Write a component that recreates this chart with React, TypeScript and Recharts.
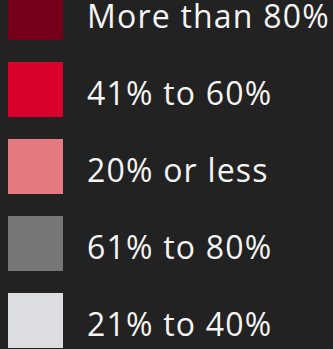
import React from 'react';
import { PieChart, Pie, Cell, Legend } from 'recharts';

const CATEGORIES = ['More than 80%', '41% to 60%', '20% or less', '61% to 80%', '21% to 40%'];
const COLORS = ['#760019', '#d9002b', '#e47a80', '#767676', '#dcdde0'];
const VALUES = [1, 1, 1, 1, 1];

const data = CATEGORIES.map((name, i) => ({ name, value: VALUES[i] }));

const LegendList = () => (
  <ul style={{ listStyle: 'none', margin: 0, padding: 0 }}>
    {CATEGORIES.map((name, i) => (
      <li
        key={name}
        style={{ display: 'flex', alignItems: 'center', height: 55, marginBottom: 22 }}
      >
        <span
          style={{ display: 'inline-block', width: 55, height: 55, background: COLORS[i], flexShrink: 0 }}
        />
        <span
          style={{
            marginLeft: 24,
            color: '#f4f4f4',
            fontFamily: '"Open Sans", sans-serif',
            fontSize: 32,
            letterSpacing: 1.2,
            lineHeight: '30px',
            position: 'relative',
            top: 3,
            whiteSpace: 'nowrap',
          }}
        >
          {name}
        </span>
      </li>
    ))}
  </ul>
);

export default function App() {
  return (
    <div
      style={{
        position: 'fixed',
        inset: 0,
        background: '#222222',
        overflow: 'hidden',
      }}
    >
      <div style={{ position: 'absolute', left: 8, top: -15 }}>
        <PieChart width={325} height={380} margin={{ top: 0, right: 0, bottom: 0, left: 0 }}>
          <Pie
            data={data}
            dataKey="value"
            nameKey="name"
            cx={-100}
            cy={-100}
            outerRadius={0}
            isAnimationActive={false}
          >
            {data.map((_, i) => (
              <Cell key={`cell-${i}`} fill={COLORS[i]} />
            ))}
          </Pie>
          <Legend
            layout="vertical"
            verticalAlign="top"
            align="left"
            content={<LegendList />}
            wrapperStyle={{ top: 0, left: 0 }}
          />
        </PieChart>
      </div>
    </div>
  );
}
